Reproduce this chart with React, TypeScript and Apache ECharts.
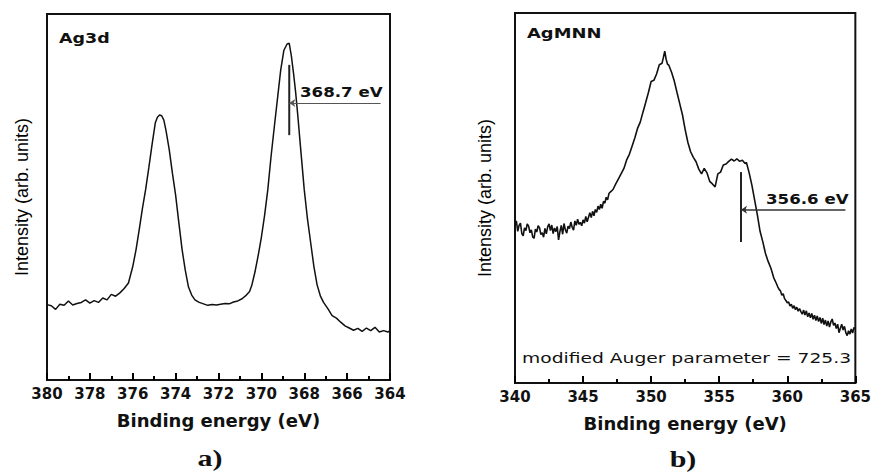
import React, { useEffect, useRef } from "react";
import * as echarts from "echarts";

// ---- Panel a) Ag3d ----
const ag3dEnergy = [
  380.0, 379.8, 379.6, 379.4, 379.2, 379.0, 378.8, 378.6, 378.4, 378.2, 378.0,
  377.8, 377.6, 377.4, 377.2, 377.0, 376.8, 376.6, 376.4, 376.2, 376.0, 375.85,
  375.7, 375.55, 375.4, 375.25, 375.1, 374.95, 374.85, 374.75, 374.65, 374.55,
  374.45, 374.3, 374.15, 374.0, 373.85, 373.7, 373.55, 373.4, 373.25, 373.1,
  372.9, 372.7, 372.5, 372.3, 372.1, 371.9, 371.7, 371.5, 371.3, 371.1, 370.9,
  370.7, 370.55, 370.45, 370.3, 370.15, 370.0, 369.85, 369.7, 369.55, 369.4,
  369.25, 369.1, 368.95, 368.8, 368.7, 368.6, 368.5, 368.4, 368.3, 368.15,
  368.0, 367.85, 367.7, 367.55, 367.4, 367.25, 367.1, 366.9, 366.7, 366.5,
  366.3, 366.1, 365.9, 365.7, 365.5, 365.3, 365.1, 364.9, 364.7, 364.5, 364.3,
  364.1, 364.0,
];
const ag3dIntensity = [
  20.6, 20.3, 19.3, 20.7, 20.4, 21.6, 20.5, 20.9, 21.2, 21.9, 21.0,
  21.7, 21.2, 22.4, 21.9, 23.4, 22.9, 23.8, 25.0, 26.5, 31.0, 35.5,
  41.0, 46.8, 52.0, 58.0, 64.3, 70.2, 71.8, 72.4, 72.2, 71.0,
  68.2, 63.0, 56.5, 50.5, 43.0, 35.7, 30.0, 25.4, 23.2, 21.9,
  21.2, 20.8, 20.4, 20.6, 20.5, 20.7, 20.9, 20.8, 21.3, 21.6, 22.2,
  23.2, 24.2, 25.8, 29.5, 34.0, 39.0, 45.0, 52.0, 61.0, 69.0,
  76.8, 84.6, 90.1, 91.8, 92.0, 88.5, 83.8, 78.5, 72.2, 62.0,
  52.0, 44.0, 37.5, 31.0, 26.0, 23.0, 21.2, 19.5, 17.6, 16.9,
  15.8, 14.8, 14.2, 13.6, 14.1, 13.3, 14.2, 13.5, 14.4, 13.1, 13.5,
  13.1, 13.5,
];
const ag3dMarkEnergy = 368.7;
const ag3dMarkSpan = [66.9, 86.1];
const ag3dArrowLevel = 75.7;
const ag3dArrowEnd = 364.44;

// ---- Panel b) AgMNN ----
const agmnnEnergy = [
  340.0, 340.1, 340.2, 340.3, 340.4, 340.5, 340.6, 340.7, 340.8, 340.9,
  341.0, 341.1, 341.2, 341.3, 341.4, 341.5, 341.6, 341.7, 341.8, 341.9,
  342.0, 342.1, 342.2, 342.3, 342.4, 342.5, 342.6, 342.7, 342.8, 342.9,
  343.0, 343.1, 343.2, 343.3, 343.4, 343.5, 343.6, 343.7, 343.8, 343.9,
  344.0, 344.1, 344.2, 344.3, 344.4, 344.5, 344.6, 344.7, 344.8, 344.9,
  345.0, 345.1, 345.2, 345.3, 345.4, 345.5, 345.6, 345.7, 345.8, 345.9,
  346.0, 346.1, 346.2, 346.3, 346.4, 346.5, 346.6, 346.7, 346.8, 346.9,
  347.0, 347.2, 347.4, 347.6, 347.8, 348.0, 348.2, 348.4, 348.6, 348.8,
  349.0, 349.2, 349.4, 349.6, 349.8, 350.0, 350.2, 350.4, 350.6, 350.8,
  350.9, 351.0, 351.1, 351.2, 351.3, 351.5, 351.7, 351.9, 352.1, 352.3,
  352.5, 352.7, 352.9, 353.1, 353.3, 353.5, 353.7, 353.9, 354.1, 354.3,
  354.5, 354.7, 354.9, 355.1, 355.3, 355.5, 355.7, 355.9, 356.1, 356.3,
  356.5, 356.7, 356.9, 357.0, 357.2, 357.4, 357.6, 357.8, 358.0, 358.2,
  358.4, 358.6, 358.8, 359.0,
  359.2, 359.3, 359.4, 359.5, 359.6, 359.7, 359.8, 359.9,
  360.0, 360.1, 360.2, 360.3, 360.4, 360.5, 360.6, 360.7, 360.8, 360.9,
  361.0, 361.1, 361.2, 361.3, 361.4, 361.5, 361.6, 361.7, 361.8, 361.9,
  362.0, 362.1, 362.2, 362.3, 362.4, 362.5, 362.6, 362.7, 362.8, 362.9,
  363.0, 363.1, 363.2, 363.3, 363.4, 363.5, 363.6, 363.7, 363.8, 363.9,
  364.0, 364.1, 364.2, 364.3, 364.4, 364.5, 364.6, 364.7, 364.8, 364.9,
  365.0,
];
const agmnnIntensity = [
  42.5, 43.8, 41.0, 42.6, 43.2, 40.4, 39.8, 41.9, 41.2, 43.0,
  42.4, 40.6, 41.4, 39.5, 39.1, 41.6, 40.8, 42.5, 42.0, 40.1,
  40.6, 39.4, 41.8, 40.3, 42.2, 43.0, 41.2, 42.7, 40.4, 41.9,
  40.9, 42.3, 38.7, 40.9, 42.6, 40.2, 43.1, 41.4, 40.5, 42.4,
  41.7, 43.5, 42.1, 41.3, 43.8, 42.6, 44.3, 42.9, 43.4, 42.5,
  44.1, 43.2, 45.0, 43.6, 44.8, 46.0, 44.7, 46.4, 45.2, 46.9,
  46.1, 47.8, 46.9, 48.3, 47.2, 49.1, 48.6, 50.2, 49.5, 51.2,
  51.6, 52.3, 53.8, 55.2, 56.6, 58.0, 60.3, 61.8, 64.0, 66.2,
  68.8, 70.5, 73.2, 75.8, 78.5, 81.5, 81.8, 83.5, 86.0, 86.4,
  88.0, 89.7, 87.5, 86.2, 85.9, 84.0, 81.6, 78.5, 75.5, 72.5,
  68.5, 65.0, 62.5, 61.0, 59.8, 57.8, 56.5, 58.0, 56.8, 54.5,
  53.8, 53.0, 56.5, 57.0, 58.9, 59.2, 59.9, 60.5, 60.0, 60.6,
  59.9, 60.2, 59.3, 59.6, 56.8, 53.5, 49.5, 45.5, 41.0, 38.2,
  35.0, 32.8, 31.0, 28.5,
  26.9, 26.0, 25.3, 24.9, 23.7, 24.1, 22.8, 22.3,
  21.7, 21.9, 20.8, 21.3, 20.2, 20.9, 19.8, 20.5, 19.4, 20.1,
  19.3, 18.6, 19.7, 18.4, 19.5, 17.9, 18.9, 17.6, 18.8, 17.2,
  18.3, 16.9, 18.1, 16.6, 17.7, 16.1, 17.5, 15.8, 17.0, 15.4,
  16.8, 15.1, 16.5, 17.3, 15.6, 16.2, 14.7, 15.9, 13.6, 14.8,
  15.9, 14.3, 15.3, 13.6, 12.8, 14.1, 13.2, 14.6, 13.5, 15.0,
  14.6,
];
const agmnnMarkEnergy = 356.6;
const agmnnMarkSpan = [38.1, 57.0];
const agmnnArrowLevel = 46.8;
const agmnnArrowEnd = 364.27;

const INK = "#111111";
const BOLD_FONT = "'DejaVu Sans', 'Liberation Sans', sans-serif";
const LABEL_FONT = "'Liberation Sans', Arial, sans-serif";
const SERIF_FONT = "'Liberation Serif', 'Times New Roman', serif";

function zip(xs: number[], ys: number[]) {
  return xs.map((x, i) => [x, ys[i]]);
}

function xAxisFor(gridIndex: number, min: number, max: number, interval: number, inverse: boolean) {
  return {
    type: "value",
    gridIndex,
    min,
    max,
    interval,
    inverse,
    name: "Binding energy (eV)",
    nameLocation: "middle",
    nameGap: 31,
    nameTextStyle: { fontFamily: BOLD_FONT, fontWeight: "bold", fontSize: 18, color: "#111" },
    axisLine: { show: true, onZero: false, lineStyle: { color: INK, width: 2 } },
    axisTick: { show: true, inside: true, length: 7, lineStyle: { color: "#000", width: 2 } },
    minorTick: { show: true, splitNumber: 2, length: 4, lineStyle: { color: "#000", width: 2 } },
    axisLabel: {
      margin: 6,
      fontFamily: BOLD_FONT,
      fontWeight: "bold",
      fontSize: 15,
      color: "#111",
    },
    splitLine: { show: false },
  };
}

function yAxisFor(gridIndex: number, gap: number) {
  return {
    type: "value",
    gridIndex,
    min: 0,
    max: 100,
    name: "Intensity (arb. units)",
    nameLocation: "middle",
    nameGap: gap,
    nameTextStyle: { fontFamily: LABEL_FONT, fontSize: 18, color: "#000" },
    axisLine: { show: false },
    axisTick: { show: false },
    axisLabel: { show: false },
    splitLine: { show: false },
  };
}

function markerSeries(idx: number, energy: number, span: number[], level: number, end: number, hWidth: number, hColor: string) {
  return {
    type: "line",
    xAxisIndex: idx,
    yAxisIndex: idx,
    data: [[energy, span[0]], [energy, span[1]]],
    showSymbol: false,
    symbol: "none",
    silent: true,
    lineStyle: { color: "#222", width: 2 },
    markLine: {
      silent: true,
      symbol: ["none", "arrow"],
      symbolSize: 6,
      label: { show: false },
      lineStyle: { color: hColor, width: hWidth, type: "solid" },
      data: [[{ coord: [end, level] }, { coord: [energy, level] }]],
    },
  };
}

function txt(text: string, x: number, y: number, font: string, size: number, weight: string, sx: number, align = "left") {
  return {
    type: "text",
    x,
    y,
    scaleX: sx,
    silent: true,
    style: {
      text,
      fill: "#111",
      font: `${weight} ${size}px ${font}`,
      textAlign: align,
      textVerticalAlign: "middle",
    },
  };
}

export default function App() {
  const ref = useRef<HTMLDivElement>(null);
  useEffect(() => {
    if (!ref.current) return;
    const chart = echarts.init(ref.current, undefined, { renderer: "svg" });
    chart.setOption({
      animation: false,
      backgroundColor: "#ffffff",
      grid: [
        { left: 47, top: 14, width: 343, height: 366, show: true, borderColor: INK, borderWidth: 2 },
        { left: 515, top: 13, width: 343, height: 370, show: true, borderColor: INK, borderWidth: 2 },
      ],
      xAxis: [xAxisFor(0, 364, 380, 2, true), xAxisFor(1, 340, 365, 5, false)],
      yAxis: [yAxisFor(0, 16), yAxisFor(1, 21)],
      series: [
        {
          type: "line",
          xAxisIndex: 0,
          yAxisIndex: 0,
          data: zip(ag3dEnergy, ag3dIntensity),
          showSymbol: false,
          symbol: "none",
          silent: true,
          lineStyle: { color: INK, width: 1.5 },
        },
        markerSeries(0, ag3dMarkEnergy, ag3dMarkSpan, ag3dArrowLevel, ag3dArrowEnd, 1, "#555"),
        {
          type: "line",
          xAxisIndex: 1,
          yAxisIndex: 1,
          data: zip(agmnnEnergy, agmnnIntensity),
          showSymbol: false,
          symbol: "none",
          silent: true,
          lineStyle: { color: INK, width: 1.6 },
        },
        markerSeries(1, agmnnMarkEnergy, agmnnMarkSpan, agmnnArrowLevel, agmnnArrowEnd, 1.5, "#333"),
      ],
      graphic: [
        txt("Ag3d", 59, 38, BOLD_FONT, 14, "bold", 1.25),
        txt("368.7 eV", 300, 92, BOLD_FONT, 14, "bold", 1.19),
        txt("AgMNN", 527, 33, BOLD_FONT, 14, "bold", 1.28),
        txt("356.6 eV", 766, 199, BOLD_FONT, 14, "bold", 1.19),
        txt("modified Auger parameter = 725.3", 522, 358, BOLD_FONT, 14.5, "normal", 1.29),
        txt("a)", 210, 458, SERIF_FONT, 24, "bold", 1.25, "center"),
        txt("b)", 683, 459, SERIF_FONT, 24, "bold", 1.25, "center"),
      ],
    });
    return () => chart.dispose();
  }, []);
  return (
    <div
      ref={ref}
      style={{ position: "absolute", left: 0, top: 0, width: 874, height: 476, background: "#fff" }}
    />
  );
}
